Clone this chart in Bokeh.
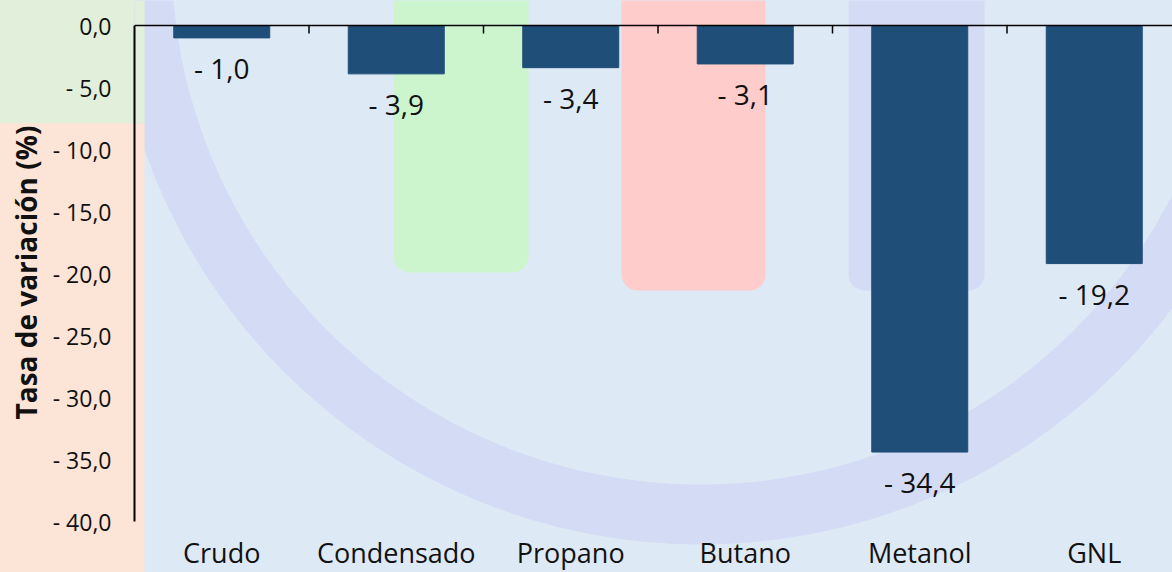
from bokeh.plotting import figure
from bokeh.models import Range1d, FixedTicker, Span, ColumnDataSource, Title
from bokeh.embed import file_html
from bokeh.resources import INLINE
from bokeh.core.properties import value

# ---------------- data ----------------
categories = ["Crudo", "Condensado", "Propano", "Butano", "Metanol", "GNL"]
variation = [-1.0, -3.9, -3.4, -3.1, -34.4, -19.2]
y_ticks = [0, -5, -10, -15, -20, -25, -30, -35, -40]
y_tick_labels = ["0,0", "- 5,0", "- 10,0", "- 15,0", "- 20,0", "- 25,0", "- 30,0", "- 35,0", "- 40,0"]
y_title = "Tasa de variación (%)"

# ---------------- style / layout ----------------
FONT = "Open Sans"
W, H = 1172, 572
LEFT = 134            # left border (y-axis panel)
PX_PER_CAT = 174.5
PX_PER_UNIT = 12.4
ZERO_Y = 25           # canvas px of y = 0
STRIP_W = 144         # coloured strip at the left
STRIP_SPLIT = 123     # green / orange boundary (canvas px)
BG = "#DEE9F6"
GREEN = "#E2EFDA"
ORANGE = "#FCE4D6"
BAR = "#1F4E79"
TXT = "#111111"

x_end = (W - LEFT) / PX_PER_CAT
y_top = ZERO_Y / PX_PER_UNIT
y_bot = -(H - ZERO_Y) / PX_PER_UNIT

centers = [i + 0.5 for i in range(len(categories))]
bounds = [i for i in range(1, len(categories))]
value_labels = [("- " if v < 0 else "") + f"{abs(v):.1f}".replace(".", ",") for v in variation]

p = figure(width=W, height=H, x_range=Range1d(0, x_end), y_range=Range1d(y_bot, y_top),
           output_backend="svg", toolbar_location=None, x_axis_location=None,
           min_border_left=LEFT, min_border_right=0, min_border_top=0, min_border_bottom=0)
p.background_fill_alpha = 0
p.border_fill_alpha = 0
p.outline_line_color = None
p.xgrid.visible = False
p.ygrid.visible = False
p.styles = {
    "background": (f"linear-gradient({GREEN}, {GREEN}) 0px 0px / {STRIP_W}px {STRIP_SPLIT}px no-repeat, "
                   f"linear-gradient({ORANGE}, {ORANGE}) 0px {STRIP_SPLIT}px / {STRIP_W}px {H - STRIP_SPLIT}px no-repeat, "
                   f"{BG}")
}

# ---------------- decorative background (watermark) ----------------
p.annulus(x=[(700 - LEFT) / PX_PER_CAT], y=[(ZERO_Y + 45) / PX_PER_UNIT],
          inner_radius=529, outer_radius=589,
          inner_radius_units="screen", outer_radius_units="screen",
          fill_color="#D4DCF5", line_color=None)
p.quad(left=[1.484, 2.791, 4.092], right=[2.258, 3.616, 4.871],
       top=[5, 5, 5], bottom=[-19.92, -21.37, -21.37],
       fill_color=["#CCF5CE", "#FFCCCC", "#D4DCF5"], line_color=None, border_radius=16)
# part of the left strip that lies inside the plotting frame
strip_x = (STRIP_W - LEFT) / PX_PER_CAT
split_y = -(STRIP_SPLIT - ZERO_Y) / PX_PER_UNIT
p.quad(left=[0, 0], right=[strip_x, strip_x], top=[y_top, split_y], bottom=[split_y, y_bot],
       fill_color=[GREEN, ORANGE], line_color=None)

# ---------------- bars ----------------
src = ColumnDataSource(dict(x=centers, top=variation, lab=value_labels))
p.vbar(x="x", top="top", bottom=0, width=0.55, source=src, fill_color=BAR, line_color=BAR)
p.text(x="x", y="top", text="lab", source=src, text_align="center", text_baseline="alphabetic",
       y_offset=30, text_font=value(FONT), text_font_size="28px", text_color=TXT)

# top axis line at y = 0 with inward ticks at category boundaries
p.add_layout(Span(location=0, dimension="width", line_color="black", line_width=1.5))
p.segment(x0=bounds, y0=[0] * len(bounds), x1=bounds, y1=[-8 / PX_PER_UNIT] * len(bounds),
          line_color="black", line_width=1.5)

# category labels under the plot
cat_src = ColumnDataSource(dict(x=centers, y=[-(552 - ZERO_Y) / PX_PER_UNIT] * len(categories), text=categories))
p.text(x="x", y="y", text="text", source=cat_src, text_align="center", text_baseline="alphabetic",
       text_font=value(FONT), text_font_size="27px", text_color=TXT)

# ---------------- y axis ----------------
ya = p.yaxis[0]
ya.ticker = FixedTicker(ticks=y_ticks)
ya.major_label_overrides = dict(zip(y_ticks, y_tick_labels))
ya.bounds = (-40, 0)
ya.axis_line_color = "black"
ya.axis_line_width = 2
ya.major_tick_in = 0
ya.major_tick_out = 0
ya.minor_tick_line_color = None
ya.major_label_standoff = 23
ya.major_label_text_font = FONT
ya.major_label_text_font_size = "23px"
ya.major_label_text_color = TXT

p.add_layout(Title(text=y_title, align="left", offset=153, text_font=FONT, text_font_size="28px",
                   text_font_style="bold", text_color=TXT, standoff=9), "left")

open("out.html", "w").write(file_html(p, INLINE))
